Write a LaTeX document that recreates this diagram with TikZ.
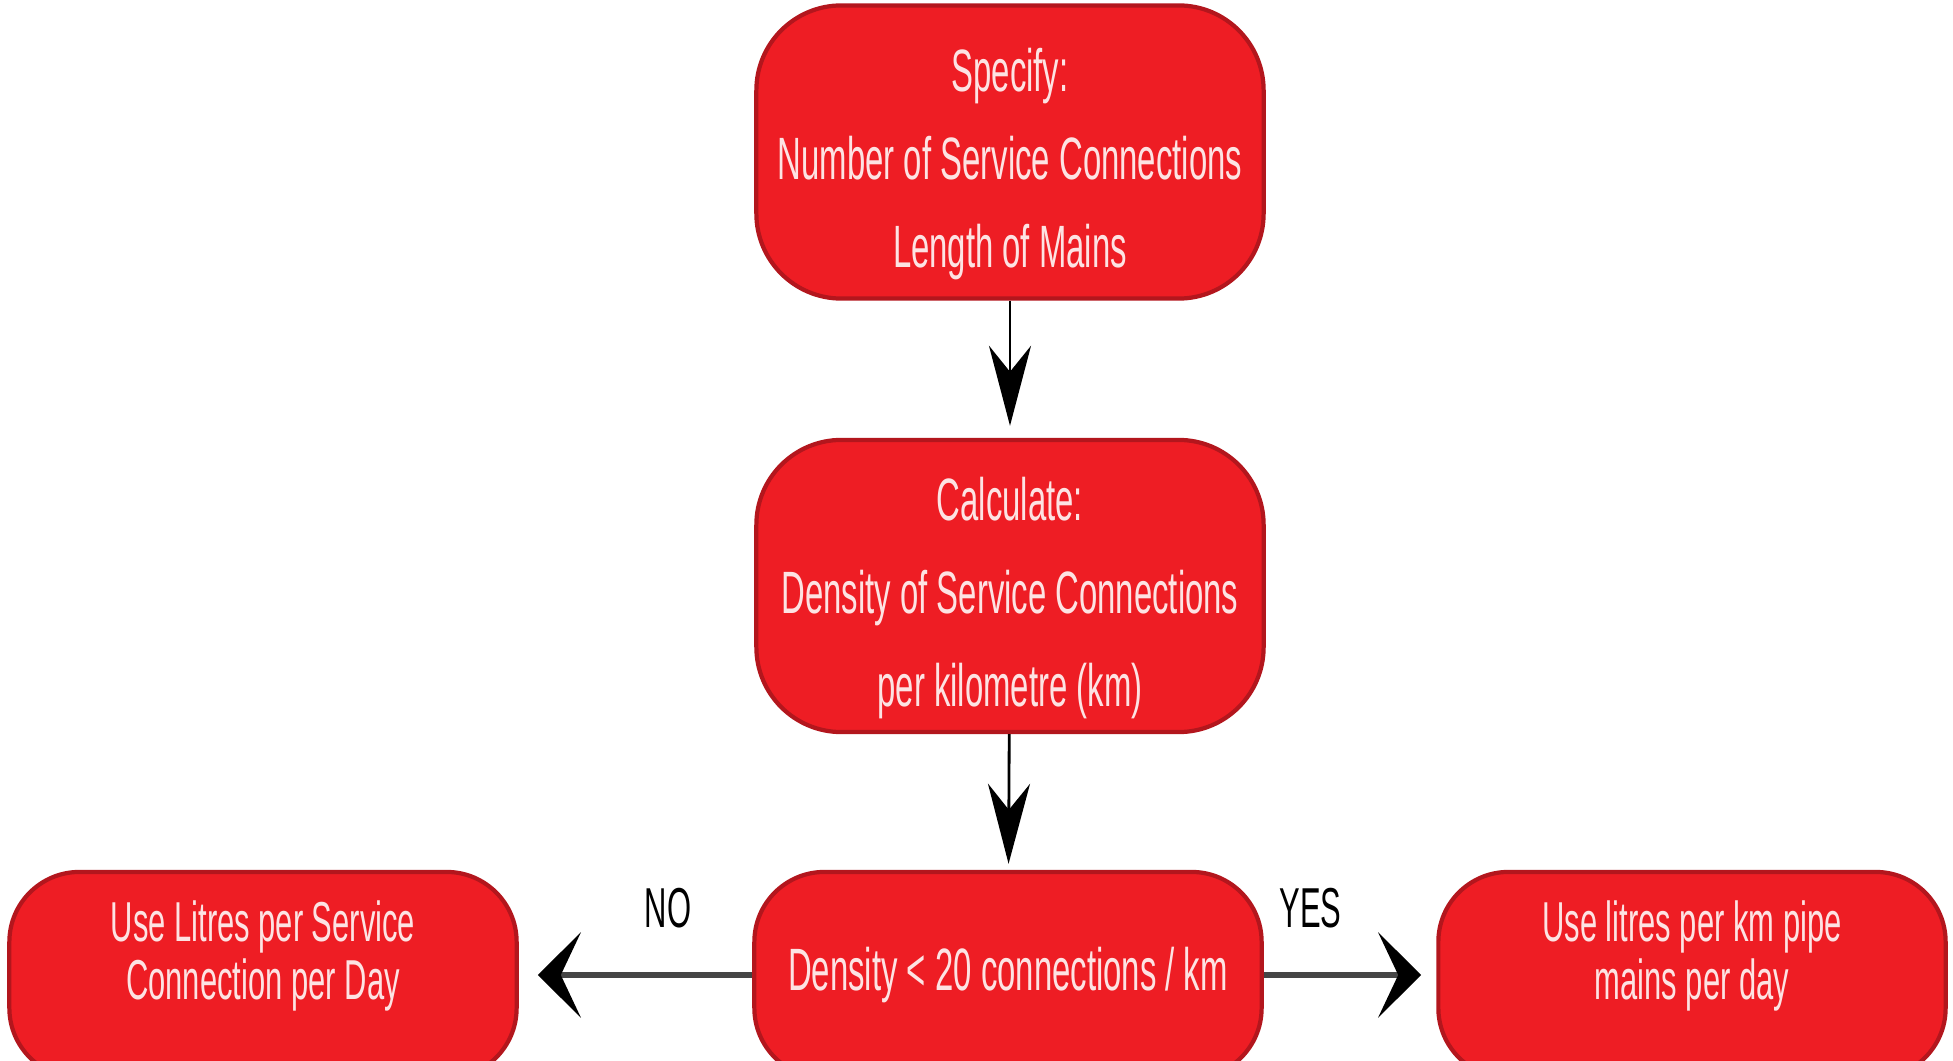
\documentclass[tikz,border=0pt]{standalone}
\usepackage{fontspec}
\setmainfont{Liberation Sans}[FakeStretch=0.55]
\usepackage{tikz}
\usetikzlibrary{arrows.meta,positioning}
\usepackage{xcolor}
\definecolor{fred}{HTML}{EE1D24}
\definecolor{fedge}{HTML}{B3161D}
\definecolor{ftext}{HTML}{FDE3E3}
\definecolor{fline}{HTML}{454545}
\newcommand{\liftlines}[2]{\raisebox{#1}[\height][\depth]{%
  \begin{tabular}{@{}c@{}}#2\end{tabular}}}
\tikzset{
  flowbox/.style   = {draw=fedge, line width=1.2pt, fill=fred, text=ftext,
                      rounded corners=0.85cm, align=center,
                      minimum width=5.07cm, inner sep=0pt},
  bigtext/.style   = {font=\fontsize{17pt}{25pt}\selectfont},
  midtext/.style   = {font=\fontsize{17pt}{26.5pt}\selectfont},
  smalltext/.style = {font=\fontsize{16pt}{16.6pt}\selectfont},
  downsig/.style   = {-{Stealth[length=8mm,width=4.2mm,inset=2.6mm]},
                      line width=0.8pt},
  sidesig/.style   = {-{Stealth[length=4.3mm,width=8.5mm,inset=2mm,color=black]},
                      line width=1.7pt, fline},
}

\begin{document}
\begin{tikzpicture}[x=0.01cm, y=-0.01cm]
\useasboundingbox (0,0) rectangle (1953,1061);
\clip (0,0) rectangle (1953,1061);
% ---- main column ----
\node[flowbox, bigtext, minimum height=2.93cm] (spec) at (1010,152)
  {\liftlines{-0.1cm}{Specify:\\Number of Service Connections\\Length of Mains}};
\node[flowbox, midtext, minimum height=2.92cm] (calc) at (1010,586)
  {\liftlines{-0.09cm}{Calculate:\\Density of Service Connections\\per kilometre (km)}};
\node[flowbox, bigtext, minimum height=2.06cm, rounded corners=0.7cm] (dens) at (1008,975)
  {Density < 20 connections / km};
% ---- outcomes ----
\node[flowbox, smalltext, minimum height=2.06cm, rounded corners=0.7cm] (lpsc) at (263,975)
  {\liftlines{0.16cm}{Use Litres per Service\\Connection per Day}};
\node[flowbox, smalltext, minimum height=2.06cm, rounded corners=0.7cm] (lpkm) at (1692,975)
  {\liftlines{0.16cm}{Use litres per km pipe\\mains per day}};
% ---- connectors ----
\draw[downsig, shorten >=0.12cm] (spec) -- (calc);
\draw[downsig, shorten >=0.06cm] (calc) -- (dens);
\draw[sidesig, shorten >=0.19cm] (dens) --
  node[pos=0.36, above=0.44cm, inner sep=0pt, smalltext, black] {NO} (lpsc);
\draw[sidesig, shorten >=0.15cm] (dens) --
  node[pos=0.27, above=0.44cm, inner sep=0pt, smalltext, black] {YES} (lpkm);
\end{tikzpicture}
\end{document}
